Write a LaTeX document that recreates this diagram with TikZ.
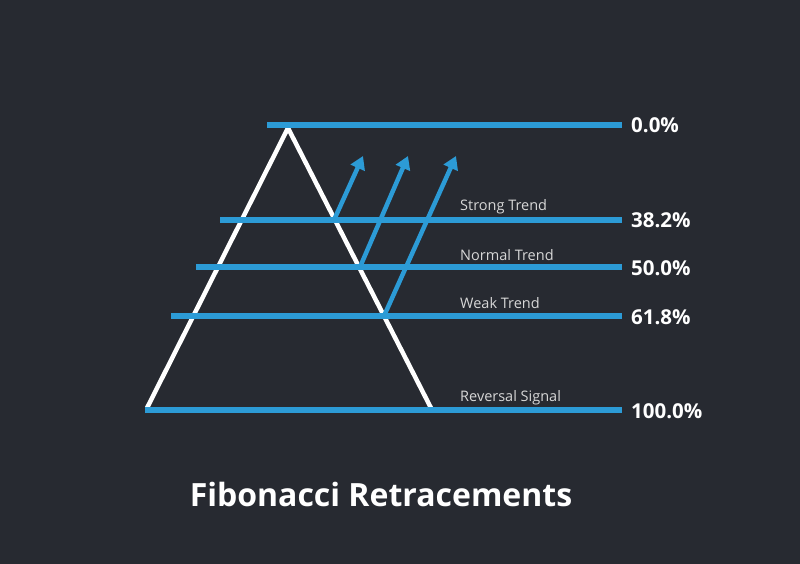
\documentclass[tikz,border=0pt]{standalone}
\usepackage{fontspec}
\setmainfont{Open Sans}
\usetikzlibrary{arrows.meta}
\definecolor{bg}{RGB}{39,42,49}
\definecolor{fibblue}{RGB}{44,155,214}
\definecolor{lbl}{RGB}{215,215,215}
\tikzset{
  level/.style={draw=fibblue, line width=5.5pt},
  tri/.style={draw=white, line width=4.5pt, line join=miter},
  trend/.style={draw=fibblue, line width=4.5pt, -{Triangle[length=13pt,width=15pt]}, shorten <=0pt},
  small/.style={text=lbl, font=\fontsize{14.5}{17}\selectfont, anchor=west, inner sep=0pt},
  pct/.style={text=white, font=\bfseries\fontsize{20.5}{24}\selectfont, anchor=west, inner sep=0pt},
}
\begin{document}
\begin{tikzpicture}[x=1pt,y=-1pt]
\fill[bg] (0,0) rectangle (800,564);
\useasboundingbox (0,0) rectangle (800,564);
% level endpoints
\coordinate (l0a) at (267,125); \coordinate (l0b) at (622,125);
\coordinate (l1a) at (220,220); \coordinate (l1b) at (622,220);
\coordinate (l2a) at (196,267); \coordinate (l2b) at (622,267);
\coordinate (l3a) at (171,316); \coordinate (l3b) at (622,316);
\coordinate (l4a) at (145,410); \coordinate (l4b) at (622,410);
% triangle
\coordinate (apex) at (288,128);
\coordinate (bl) at (147,408);
\coordinate (br) at (431,408);
\draw[tri] (bl) -- (apex) -- (br);
% levels
\draw[level] (l0a) -- (l0b);
\draw[level] (l1a) -- (l1b);
\draw[level] (l2a) -- (l2b);
\draw[level] (l3a) -- (l3b);
\draw[level] (l4a) -- (l4b);
% arrows
\coordinate (s1) at (334,220); \coordinate (e1) at (363,156);
\coordinate (s2) at (360,267); \coordinate (e2) at (408,156);
\coordinate (s3) at (384,316); \coordinate (e3) at (456,156);
\draw[trend] (s1) -- (e1);
\draw[trend] (s2) -- (e2);
\draw[trend] (s3) -- (e3);
% labels
\node[small] (t1) at (460,207) {Strong Trend};
\node[small] (t2) at (460,255) {Normal Trend};
\node[small] (t3) at (460,303) {Weak Trend};
\node[small] (t4) at (460,398) {Reversal Signal};
\node[pct] (p0) at (631,125) {0.0\%};
\node[pct] (p1) at (631,220) {38.2\%};
\node[pct] (p2) at (631,268) {50.0\%};
\node[pct] (p3) at (631,317) {61.8\%};
\node[pct] (p4) at (631,411) {100.0\%};
\node[text=white, font=\bfseries\fontsize{32}{38}\selectfont, inner sep=0pt] (title) at (381,494) {Fibonacci Retracements};
\end{tikzpicture}
\end{document}
